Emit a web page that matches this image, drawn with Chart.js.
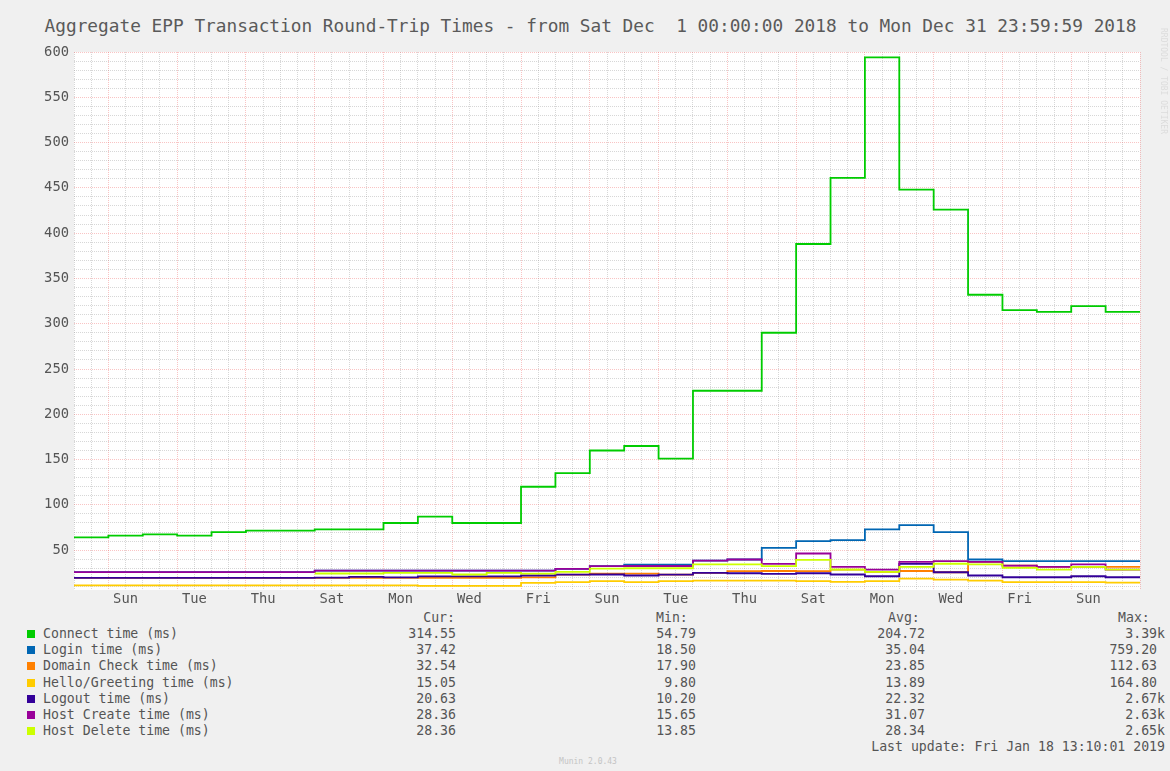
<!DOCTYPE html>
<html>
<head>
<meta charset="utf-8">
<title>Aggregate EPP Transaction Round-Trip Times</title>
<script src="https://cdn.jsdelivr.net/npm/chart.js@4.4.1/dist/chart.umd.min.js"></script>
<style>
    html, body {
        margin: 0;
        padding: 0;
    }

    body {
        width: 1170px;
        height: 771px;
        background: #f0f0f0;
        position: relative;
        overflow: hidden;
        font-family: "DejaVu Sans Mono", monospace;
        color: #555;
    }

    #eppChart {
        position: absolute;
        left: 0;
        top: 0;
    }

    .graph-title {
        position: absolute;
        left: 0;
        top: 16px;
        width: 1181px;
        text-align: center;
        font-size: 17.8px;
        line-height: 20px;
        white-space: pre;
        color: #5a5a5a;
    }

    .txt {
        position: absolute;
        font-size: 13.2px;
        line-height: 16px;
        white-space: pre;
    }

    .swatch {
        position: absolute;
        width: 8px;
        height: 8px;
    }

    .watermark {
        position: absolute;
        left: 1158px;
        top: 28px;
        font-size: 8px;
        color: #dcdcdc;
        white-space: pre;
        transform-origin: left top;
        transform: rotate(90deg) translateY(-10px);
    }

    .munin {
        position: absolute;
        left: 0;
        width: 1176px;
        top: 757px;
        text-align: center;
        font-size: 8px;
        color: #c4c4c4;
    }
</style>
</head>
<body>

<div class="graph-title">Aggregate EPP Transaction Round-Trip Times - from Sat Dec  1 00:00:00 2018 to Mon Dec 31 23:59:59 2018</div>
<canvas id="eppChart" width="1170" height="610"></canvas>
<div id="legend"></div>
<div class="watermark">RRDTOOL / TOBI OETIKER</div>
<div class="munin">Munin 2.0.43</div>

<script>
/* ── DADOS (um valor por dia, 1 a 31 de dezembro) ── */
const dayLabels = ['Sun', 'Tue', 'Thu', 'Sat', 'Mon', 'Wed', 'Fri', 'Sun', 'Tue', 'Thu', 'Sat', 'Mon', 'Wed', 'Fri', 'Sun'];
const yTickLabels = [50, 100, 150, 200, 250, 300, 350, 400, 450, 500, 550, 600];

const connectTime = [64, 66, 67.5, 66, 70, 71.5, 71.5, 73, 73, 80, 87, 80, 80, 120, 135, 160, 165, 151, 226, 226, 290, 388, 461, 594, 448, 426, 332, 315, 313, 319.5, 313];
const loginTime = [25.7, 25.7, 25.7, 25.7, 25.7, 25.7, 25.7, 27.5, 27.5, 27.5, 27.5, 27.5, 27.5, 27.5, 29.3, 32.3, 34.1, 34.1, 38.5, 39.7, 52.6, 60, 61, 72.9, 77.7, 69.9, 39.7, 37.8, 37.8, 37.8, 37.8];
const domainCheckTime = [19.4, 19.4, 19.4, 19.4, 19.4, 19.4, 19.4, 19.4, 19.4, 19.4, 19.4, 19.4, 19.4, 20, 23, 24, 24, 23, 25, 26.8, 27, 26.8, 28.6, 26, 27, 25.6, 37.1, 33, 31.5, 31.5, 31.5];
const helloTime = [11, 11, 11, 11, 11, 11, 11, 11, 11, 11, 10.5, 10.5, 10.5, 13.8, 14.6, 15.7, 14.6, 15.7, 16.4, 16.4, 16.4, 15.7, 14.9, 15.7, 18.6, 17.5, 16.4, 14.6, 14.6, 14.6, 14.2];
const logoutTime = [19.4, 19.4, 19.4, 19.4, 19.4, 19.4, 19.4, 19.6, 20.5, 20, 21, 21, 21, 22, 23, 23.1, 22, 23, 24.9, 24.5, 23.8, 24.5, 23.1, 21.2, 34.9, 25.6, 22, 20.1, 20.1, 21.2, 20.1];
const hostCreateTime = [25.7, 25.7, 25.7, 25.7, 25.7, 25.7, 25.7, 27.5, 27.5, 27.5, 27.5, 27.5, 27.5, 27.5, 29.3, 32.3, 32.5, 32.5, 38.5, 39.7, 34.9, 46.3, 31.5, 28.6, 37.1, 37.8, 37.1, 33, 31.5, 34.2, 28.6];
const hostDeleteTime = [null, null, null, null, null, null, null, 24.2, 24.2, 25, 25, 23.1, 25, 24, 26, 29.5, 30, 30, 34.2, 34.2, 32.3, 39.3, 28.6, 26, 31.5, 35, 34.2, 30.5, 28.6, 31.5, 28.6];

const seriesNames = ['Connect time (ms)', 'Login time (ms)', 'Domain Check time (ms)', 'Hello/Greeting time (ms)', 'Logout time (ms)', 'Host Create time (ms)', 'Host Delete time (ms)'];
const seriesColors = ['#00cc00', '#0066b3', '#ff8000', '#ffcc00', '#330099', '#990099', '#ccff00'];
const curValues = ['314.55', '37.42', '32.54', '15.05', '20.63', '28.36', '28.36'];
const minValues = ['54.79', '18.50', '17.90', '9.80', '10.20', '15.65', '13.85'];
const avgValues = ['204.72', '35.04', '23.85', '13.89', '22.32', '31.07', '28.34'];
const maxValues = ['3.39k', '759.20', '112.63', '164.80', '2.67k', '2.63k', '2.65k'];

const seriesData = [connectTime, loginTime, domainCheckTime, helloTime, logoutTime, hostCreateTime, hostDeleteTime];

const FONT = 'DejaVu Sans Mono';
const Y_MIN = 6;
const DAYS = connectTime.length;

/* ── GRADE ── */
const yGrid = [];
for (let v = 10; v <= 600; v += 10) yGrid.push(v);

const xGrid = [];
for (let v = 0; v <= DAYS; v += 0.5) xGrid.push(v);

const minorGrid = 'rgba(150,150,150,0.38)';
const majorGrid = 'rgba(240,100,100,0.38)';

// cada valor vale o dia inteiro: ponto extra no fim fecha o último degrau
function toSteps(values) {
    const pts = values.map((v, i) => ({ x: i, y: v }));
    pts.push({ x: values.length, y: values[values.length - 1] });
    return pts;
}

const plotBackground = {
    id: 'plotBackground',
    beforeDraw(chart) {
        const { ctx, chartArea: a } = chart;
        ctx.save();
        ctx.fillStyle = '#ffffff';
        ctx.fillRect(a.left, a.top, a.right - a.left, a.bottom - a.top);
        ctx.restore();
    }
};

/* ── GRÁFICO ── */
const ctx = document.getElementById('eppChart');

new Chart(ctx, {
    type: 'line',
    data: {
        datasets: seriesData.map((values, i) => ({
            label: seriesNames[i],
            data: toSteps(values),
            borderColor: seriesColors[i],
            backgroundColor: seriesColors[i],
            borderWidth: 1.8,
            stepped: true,
            pointRadius: 0,
            fill: false,
            order: seriesData.length - i
        }))
    },
    options: {
        responsive: false,
        animation: false,
        events: [],
        layout: {
            padding: { top: 52, right: 30, left: 0, bottom: 0 }
        },
        plugins: {
            legend: { display: false },
            tooltip: { enabled: false },
            title: { display: false }
        },
        scales: {
            x: {
                type: 'linear',
                min: 0,
                max: DAYS,
                afterBuildTicks: scale => {
                    scale.ticks = xGrid.map(v => ({ value: v }));
                },
                afterFit: scale => {
                    scale.height = 20;
                },
                ticks: {
                    autoSkip: false,
                    maxRotation: 0,
                    padding: 1,
                    color: '#555',
                    font: { family: FONT, size: 13.8 },
                    callback: v => {
                        const k = (v - 1.5) / 2;
                        return Number.isInteger(k) && k >= 0 && k < dayLabels.length ? dayLabels[k] : '';
                    }
                },
                grid: {
                    drawTicks: false,
                    lineWidth: 1,
                    color: c => (c.tick && c.tick.value % 2 === 1) ? majorGrid : minorGrid
                },
                border: { display: false, dash: [1, 1] }
            },
            y: {
                min: Y_MIN,
                max: 600,
                afterBuildTicks: scale => {
                    scale.ticks = yGrid.map(v => ({ value: v }));
                },
                afterFit: scale => {
                    scale.width = 74;
                },
                ticks: {
                    autoSkip: false,
                    padding: 5,
                    color: '#555',
                    font: { family: FONT, size: 13.8 },
                    callback: v => yTickLabels.includes(v) ? String(v) : ''
                },
                grid: {
                    drawTicks: false,
                    lineWidth: 1,
                    color: c => (c.tick && yTickLabels.includes(c.tick.value)) ? majorGrid : minorGrid
                },
                border: { display: false, dash: [1, 1] }
            }
        }
    },
    plugins: [plotBackground]
});

/* ── LEGENDA ── */
const legend = document.getElementById('legend');
const HEAD_Y = 610;
const ROW_Y = 626;
const ROW_STEP = 16.2;

function addText(text, y, opts) {
    const el = document.createElement('div');
    el.className = 'txt';
    el.textContent = text;
    el.style.top = y + 'px';
    if (opts.left !== undefined) el.style.left = opts.left + 'px';
    if (opts.right !== undefined) el.style.right = (1170 - opts.right) + 'px';
    legend.appendChild(el);
}

addText('Cur:', HEAD_Y, { right: 455 });
addText('Min:', HEAD_Y, { left: 656 });
addText('Avg:', HEAD_Y, { left: 888 });
addText('Max:', HEAD_Y, { left: 1118 });

seriesNames.forEach((name, i) => {
    const y = ROW_Y + i * ROW_STEP;

    const sw = document.createElement('div');
    sw.className = 'swatch';
    sw.style.left = '27px';
    sw.style.top = (y + 4) + 'px';
    sw.style.background = seriesColors[i];
    legend.appendChild(sw);

    addText(name, y, { left: 43 });
    addText(curValues[i], y, { right: 456 });
    addText(minValues[i], y, { right: 696 });
    addText(avgValues[i], y, { right: 925 });

    const maxText = maxValues[i].endsWith('k') ? maxValues[i] : maxValues[i] + ' ';
    addText(maxText, y, { right: 1165 });
});

addText('Last update: Fri Jan 18 13:10:01 2019', ROW_Y + 7 * ROW_STEP, { right: 1165 });
</script>
</body>
</html>
